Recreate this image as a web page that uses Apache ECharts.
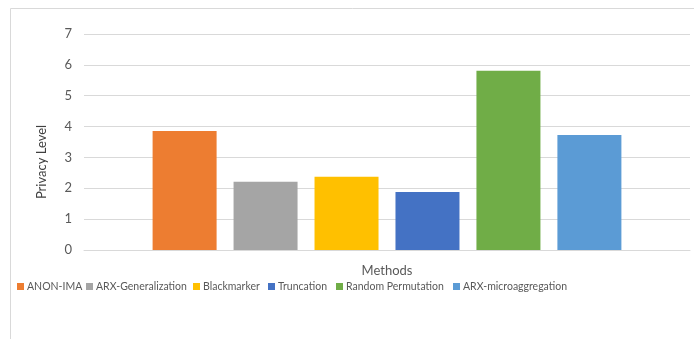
<!DOCTYPE html>
<html><head><meta charset="utf-8">
<script src="https://cdn.jsdelivr.net/npm/echarts@6/dist/echarts.min.js"></script>
<style>html,body{margin:0;padding:0;background:#fff}#c{width:694px;height:339px}</style>
</head><body><div id="c"></div>
<script>
const categories = [''];
const seriesNames = ['ANON-IMA','ARX-Generalization','Blackmarker','Truncation','Random Permutation','ARX-microaggregation'];
const seriesValues = [3.86, 2.21, 2.37, 1.88, 5.81, 3.73];
const seriesColors = ['#ED7D31','#A5A5A5','#FFC000','#4472C4','#70AD47','#5B9BD5'];
const yTicks = [0,1,2,3,4,5,6,7];
const FONT = 'Lato';
const legendLeft = [12, 81, 188, 263, 331, 448];
const chart = echarts.init(document.getElementById('c'));
chart.setOption({
  animation: false,
  textStyle: { fontFamily: FONT },
  graphic: [{ type: 'rect', left: 8, top: 6, shape: { width: 800, height: 400 }, style: { fill: 'none', stroke: '#d9d9d9', lineWidth: 1 }, silent: true }],
  grid: { left: 84, right: 4, top: 34, bottom: 89 },
  legend: seriesNames.map((n, i) => ({
    left: legendLeft[i], top: 276, width: 400,
    icon: 'rect', itemWidth: 7, itemHeight: 7, itemGap: 10,
    textStyle: { fontFamily: FONT, fontSize: 10.5, color: '#595959', padding: [0,0,0,-2] },
    data: [n]
  })),
  xAxis: {
    type: 'category', data: categories,
    name: 'Methods', nameLocation: 'middle', nameGap: 14,
    nameTextStyle: { fontFamily: FONT, fontSize: 13, color: '#595959' },
    axisLine: { lineStyle: { color: '#d9d9d9' } },
    axisTick: { show: false }, axisLabel: { show: false }
  },
  yAxis: {
    type: 'value', min: 0, max: 7, interval: 1,
    name: 'Privacy Level', nameLocation: 'middle', nameGap: 36, nameRotate: 90,
    nameTextStyle: { fontFamily: FONT, fontSize: 13, color: '#404040', padding: [0, 40, 0, 0] },
    axisLabel: { fontFamily: FONT, fontSize: 13, color: '#595959', margin: 12, formatter: v => yTicks.includes(v) ? String(v) : '' },
    splitLine: { lineStyle: { color: '#d9d9d9' } },
    axisLine: { show: false }, axisTick: { show: false }
  },
  series: seriesNames.map((n, i) => ({
    name: n, type: 'bar', barWidth: 64, barGap: '26.5%',
    itemStyle: { color: seriesColors[i] },
    data: categories.map(() => seriesValues[i])
  }))
});
</script></body></html>
